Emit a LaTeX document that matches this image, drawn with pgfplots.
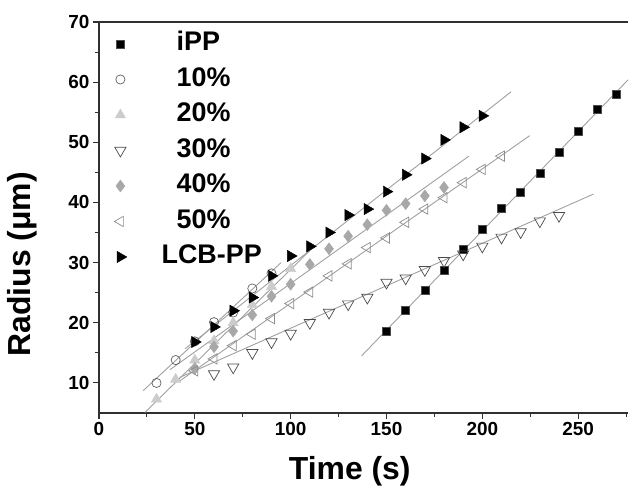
\documentclass[border=0pt]{standalone}
\usepackage{fontspec}
\setmainfont{Liberation Sans}
\usepackage{pgfplots}
\pgfplotsset{compat=1.18}
\definecolor{fitgray}{HTML}{A0A0A0}
\definecolor{axcol}{HTML}{303030}
\definecolor{c10}{HTML}{606060}
\definecolor{c20}{HTML}{CCCCCC}
\definecolor{c30}{HTML}{4A4A4A}
\definecolor{c40}{HTML}{A8A8A8}
\definecolor{c50}{HTML}{8C8C8C}
\begin{document}
\begin{tikzpicture}
\path[use as bounding box] (-99bp,-82bp) rectangle (534bp,413bp);
\begin{axis}[
  at={(0,0)}, anchor=south west,
  scale only axis, width=529bp, height=391bp,
  xmin=0, xmax=276, ymin=5, ymax=70,
  xtick={0,50,...,250}, minor xtick={25,75,...,275},
  ytick={10,20,...,70}, minor ytick={15,25,...,65},
  axis lines*=left,
  axis line style={line width=1.3bp, axcol},
  tick align=outside,
  major tick length=6bp, minor tick length=4bp,
  tick style={line width=1.1bp, axcol},
  /pgf/number format/assume math mode=true,
  tick label style={font=\fontsize{19}{19}\selectfont\bfseries},
  xlabel={Time (s)},
  ylabel={Radius (μm)},
  xlabel style={font=\fontsize{32}{32}\selectfont\bfseries, at={(axis description cs:0.474,-0.15)}, anchor=center},
  ylabel style={font=\fontsize{32}{32}\selectfont\bfseries, at={(axis description cs:-0.145,0.38)}, anchor=center},
  after end axis/.code={\draw[line width=1.3bp, axcol] (rel axis cs:0,1) -- (rel axis cs:1,1);},
  legend style={at={(axis description cs:0,0.975)}, anchor=north west, draw=none, fill=none, inner sep=0pt,
    font=\fontsize{27}{27}\selectfont\bfseries,
    nodes={inner sep=0pt, text height=19bp, text depth=5bp},
    row sep=11.5bp},
  legend cell align=left,
  legend image code/.code={\path (0bp,0bp) (77bp,0bp); \draw[mark repeat=2,mark phase=2,#1] plot coordinates {(0bp,0bp)(21bp,0bp)(42bp,0bp)};},
]
% fit lines
\addplot[fitgray, line width=0.9bp, forget plot] coordinates {(137,14.5) (277,60.7)};
\addplot[fitgray, line width=0.9bp, forget plot] coordinates {(23,8.7) (95,30.0)};
\addplot[fitgray, line width=0.9bp, forget plot] coordinates {(24,5.1) (110,32.0)};
\addplot[fitgray, line width=0.9bp, forget plot] coordinates {(42,10.9) (258,41.4)};
\addplot[fitgray, line width=0.9bp, forget plot] coordinates {(37,12.2) (193,47.7)};
\addplot[fitgray, line width=0.9bp, forget plot] coordinates {(42,10.3) (224.7,51.1)};
\addplot[fitgray, line width=0.9bp, forget plot] coordinates {(45,15.7) (215,58.4)};
% iPP
\addplot[only marks, mark=square*, mark size=4bp, mark options={fill=black, draw=black!70, line width=0.6bp}] coordinates {
(150,18.5) (160,22.0) (170,25.4) (180,28.8) (190,32.2) (200,35.5) (210,39.0) (220,41.7) (230,44.8) (240,48.3) (250,51.9) (260,55.5) (270,58.0)};
\addlegendentry{iPP}
% 10%
\addplot[only marks, mark=o, mark size=4.6bp, mark options={draw=c10, fill=white, line width=0.7bp}] coordinates {
(30,10.0) (40,13.8) (50,16.9) (60,20.1) (70,21.7) (80,25.7) (90,28.2)};
\addlegendentry{10\%}
% 20%
\addplot[only marks, mark=triangle*, mark size=6bp, mark options={draw=c20, fill=c20}] coordinates {
(30,7.3) (40,10.6) (50,13.8) (60,17.0) (70,20.0) (80,23.0) (90,26.0) (100,29.0)};
\addlegendentry{20\%}
% 30%
\addplot[only marks, mark=triangle, mark size=6.5bp, mark options={draw=c30, fill=white, rotate=180, line width=0.7bp}] coordinates {
(60,11.5) (70,12.6) (80,15.0) (90,16.8) (100,18.2) (110,20.0) (120,21.7) (130,23.1) (140,24.2) (150,26.7) (160,27.4) (170,28.8) (180,30.3) (190,31.4) (200,32.7) (210,34.2) (220,35.1) (230,36.9) (240,37.8)};
\addlegendentry{30\%}
% 40%
\addplot[only marks, mark=diamond*, mark size=6bp, mark options={draw=c40, fill=c40}] coordinates {
(50,12.4) (60,16.0) (70,18.6) (80,21.3) (90,24.4) (100,26.4) (110,29.7) (120,32.3) (130,34.4) (140,36.3) (150,38.7) (160,39.8) (170,41.1) (180,42.5)};
\addlegendentry{40\%}
% 50%
\addplot[only marks, mark=triangle, mark size=6bp, mark options={draw=c50, fill=white, rotate=90, line width=0.7bp}] coordinates {
(50,12.0) (60,14.0) (70,16.2) (80,18.1) (90,20.7) (100,23.2) (110,25.1) (120,27.8) (130,29.8) (140,32.5) (150,34.1) (160,36.7) (170,38.9) (180,40.8) (190,43.3) (200,45.5) (210,47.7)};
\addlegendentry{50\%}
% LCB-PP
\addplot[only marks, mark=triangle*, mark size=6.5bp, mark options={draw=black, fill=black, rotate=-90}] coordinates {
(50,16.8) (60,19.3) (70,22.0) (80,24.2) (90,27.8) (100,31.1) (110,32.7) (120,35.0) (130,37.9) (140,38.9) (150,41.8) (160,44.6) (170,47.3) (180,50.4) (190,52.5) (200,54.4)};
\addlegendentry{\hspace*{-15bp}LCB-PP}
\end{axis}
\end{tikzpicture}
\end{document}
